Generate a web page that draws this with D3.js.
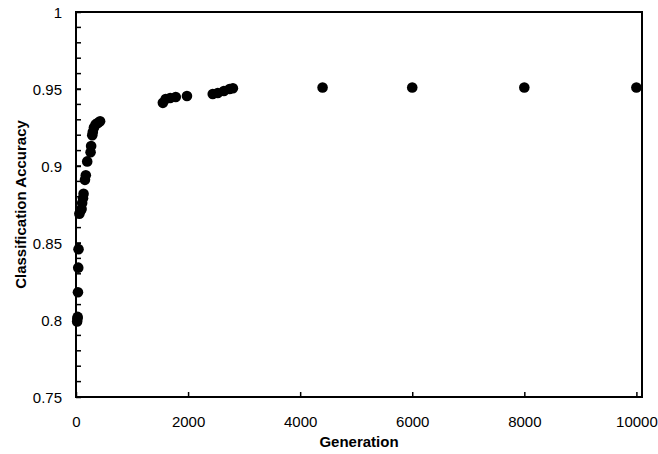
<!DOCTYPE html>
<html>
<head>
<meta charset="utf-8">
<script src="https://cdn.jsdelivr.net/npm/d3@7"></script>
<style>
  body { margin: 0; background: #fff; }
  svg { display: block; font-family: "Liberation Sans", Arial, sans-serif; }
</style>
</head>
<body>
<div id="chart"></div>
<script>
// values
const generations = [
  20, 25, 30, 35, 40, 45, 60, 80, 100, 110, 125, 135, 160, 175, 200,
  260, 270, 290, 300, 320, 350, 390, 430,
  1550, 1600, 1680, 1780, 1980,
  2440, 2530, 2640, 2740, 2800,
  4400, 6000, 8000, 10000
];
const accuracy = [
  0.799, 0.801, 0.802, 0.818, 0.834, 0.846, 0.869, 0.871, 0.872, 0.876, 0.879, 0.882, 0.891, 0.894, 0.903,
  0.909, 0.913, 0.920, 0.922, 0.925, 0.927, 0.928, 0.929,
  0.941, 0.9435, 0.9442, 0.9448, 0.9455,
  0.9468, 0.9474, 0.9487, 0.950, 0.9505,
  0.951, 0.951, 0.951, 0.951
];
const xTicks = [0, 2000, 4000, 6000, 8000, 10000];
const yTicks = [0.75, 0.8, 0.85, 0.9, 0.95, 1];

const points = generations.map((g, i) => ({ gen: g, acc: accuracy[i] }));

const W = 658, H = 454;
const margin = { top: 12, right: 16, bottom: 57, left: 76 };
const width = W - margin.left - margin.right,
  height = H - margin.top - margin.bottom;

const svg = d3.select('#chart').append('svg')
  .attr('width', W)
  .attr('height', H);

const g = svg.append('g').attr('transform', `translate(${margin.left},${margin.top})`);

const x = d3.scaleLinear().domain([0, 10100]).range([0, width]);
const y = d3.scaleLinear().domain([0.75, 1]).range([height, 0]);

// minor y ticks every 0.01, inward
const yMinor = d3.range(76, 100).map(v => v / 100);
g.append('g')
  .selectAll('line')
  .data(yMinor)
  .join('line')
    .attr('x1', 0)
    .attr('x2', 5)
    .attr('y1', d => y(d))
    .attr('y2', d => y(d))
    .attr('stroke', '#000')
    .attr('stroke-width', 1.5);

const yAxis = g.append('g')
  .call(d3.axisLeft(y).tickValues(yTicks).tickSize(-5).tickPadding(14).tickFormat(d3.format('')));
yAxis.select('.domain').remove();
yAxis.selectAll('line').attr('stroke-width', 1.5);
yAxis.selectAll('text')
  .attr('font-size', 15)
  .attr('fill', '#000')
  .attr('dy', '0.38em');

const xAxis = g.append('g')
  .attr('transform', `translate(0,${height})`)
  .call(d3.axisBottom(x).tickValues(xTicks).tickSize(-5).tickPadding(19).tickFormat(d3.format('')));
xAxis.select('.domain').remove();
xAxis.selectAll('line').attr('stroke-width', 1.5);
xAxis.selectAll('text')
  .attr('font-size', 15)
  .attr('fill', '#000');

// frame
g.append('rect')
  .attr('width', width)
  .attr('height', height)
  .attr('fill', 'none')
  .attr('stroke', '#000')
  .attr('stroke-width', 2);

g.append('g')
  .selectAll('circle')
  .data(points)
  .join('circle')
    .attr('cx', d => x(d.gen))
    .attr('cy', d => y(d.acc))
    .attr('r', 5.3)
    .attr('fill', '#000');

svg.append('text')
  .attr('x', margin.left + width / 2)
  .attr('y', 447)
  .attr('text-anchor', 'middle')
  .attr('font-size', 15)
  .attr('font-weight', 'bold')
  .text('Generation');

svg.append('text')
  .attr('transform', `translate(26,${margin.top + height / 2}) rotate(-90)`)
  .attr('text-anchor', 'middle')
  .attr('font-size', 15)
  .attr('font-weight', 'bold')
  .text('Classification Accuracy');
</script>
</body>
</html>
